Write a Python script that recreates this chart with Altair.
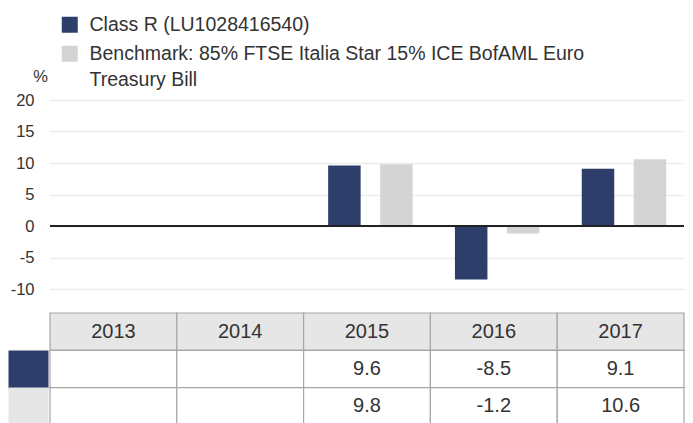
import altair as alt
import pandas as pd

years = ["2013", "2014", "2015", "2016", "2017"]
class_r = [None, None, 9.6, -8.5, 9.1]
bench = [None, None, 9.8, -1.2, 10.6]
series_names = ["Class R (LU1028416540)",
                "Benchmark: 85% FTSE Italia Star 15% ICE BofAML Euro Treasury Bill"]
bench_lines = ["Benchmark: 85% FTSE Italia Star 15% ICE BofAML Euro", "Treasury Bill"]
colors = ["#2d3e6a", "#d4d4d4"]
row_keys = ["H", "R", "B"]
y_ticks = [-10, -5, 0, 5, 10, 15, 20]

FONT = "Liberation Sans"
TXT = "#333333"
W = 634

rows = []
for y, a, b in zip(years, class_r, bench):
    if a is not None:
        rows.append({"year": y, "series": series_names[0], "value": a})
    if b is not None:
        rows.append({"year": y, "series": series_names[1], "value": b})
bars_df = pd.DataFrame(rows)

xscale = alt.Scale(domain=years, paddingInner=0, paddingOuter=0)
yscale = alt.Scale(domain=[-10, 20], nice=False, zero=False)

label_expr = ("datum.label == '" + series_names[1] + "' ? ['" + bench_lines[0] + "', '"
              + bench_lines[1] + "'] : datum.label")

y_axis = alt.Axis(values=y_ticks, grid=True, gridColor="#ececec",
                  gridWidth=1.5, domain=False, ticks=False, labelPadding=16,
                  labelFontSize=16.5, labelFont=FONT, labelColor=TXT,
                  labelExpr="toString(datum.value)", labelOverlap=False,
                  title="%", titleAngle=0, titleFontSize=16.5, titleFont=FONT,
                  titleFontWeight="normal", titleColor=TXT, titleX=-10, titleY=-19,
                  titleAlign="center", titleBaseline="alphabetic")

bars = alt.Chart(bars_df).mark_bar().encode(
    x=alt.X("year:N", scale=xscale, axis=None),
    xOffset=alt.XOffset("series:N", sort=series_names,
                        scale=alt.Scale(domain=series_names, paddingInner=0.375,
                                        paddingOuter=0.407, align=0.58)),
    y=alt.Y("value:Q", scale=yscale, axis=y_axis),
    color=alt.Color("series:N", sort=series_names,
                    scale=alt.Scale(domain=series_names, range=colors),
                    legend=alt.Legend(title=None, orient="none", legendX=10, legendY=-85,
                                      symbolType="square", symbolSize=256, symbolStrokeWidth=0,
                                      labelFontSize=19.5, labelFont=FONT, labelColor=TXT,
                                      labelLimit=0, labelOffset=10, rowPadding=8,
                                      labelExpr=label_expr)),
)

zero = alt.Chart(pd.DataFrame({"z": [0]})).mark_rule(color="#222222", strokeWidth=2).encode(
    y=alt.Y("z:Q", scale=yscale, axis=y_axis)
)

top = alt.layer(bars, zero).properties(width=W, height=189)

# table
def fmt(v):
    return "" if v is None else f"{v:.1f}"

cells = []
for i, y in enumerate(years):
    cells.append({"year": y, "row": "H", "label": y})
    cells.append({"year": y, "row": "R", "label": fmt(class_r[i])})
    cells.append({"year": y, "row": "B", "label": fmt(bench[i])})
cells_df = pd.DataFrame(cells)

ty = alt.Scale(domain=row_keys, paddingInner=0, paddingOuter=0)
tx = alt.Scale(domain=years, paddingInner=0, paddingOuter=0)

cell_rects = alt.Chart(cells_df).mark_rect(stroke="#a6a6a6", strokeWidth=1.2).encode(
    x=alt.X("year:N", scale=tx, axis=None),
    y=alt.Y("row:N", scale=ty, sort=row_keys,
            axis=alt.Axis(values=["R", "B"], labels=False, domain=False, ticks=True,
                          tickSize=40, tickWidth=38, tickCap="butt", bandPosition=0.5,
                          offset=2, title=None, grid=False,
                          tickColor={"condition": {"test": "datum.value === 'R'", "value": colors[0]},
                                     "value": "#e6e6e6"})),
    fill=alt.Fill("row:N", scale=alt.Scale(domain=row_keys, range=["#e6e6e6", "#ffffff", "#ffffff"]),
                  legend=None),
)

cell_text = alt.Chart(cells_df).mark_text(font=FONT, fontSize=20, color=TXT).encode(
    x=alt.X("year:N", scale=tx, axis=None),
    y=alt.Y("row:N", scale=ty, sort=row_keys),
    text="label:N",
)

table = alt.layer(cell_rects, cell_text).properties(width=W, height=112)

chart = alt.vconcat(top, table, spacing=14).properties(
    autosize=alt.AutoSizeParams(type="pad"),
    padding={"left": -19, "top": 7, "right": 0, "bottom": 0},
).resolve_scale(x="independent", y="independent", color="independent", fill="independent").configure(
    view={"stroke": None},
    style={"guide-label": {"lineHeight": 26.5}},
)

chart.save("out.html", embed_options={"renderer": "svg", "actions": False})
